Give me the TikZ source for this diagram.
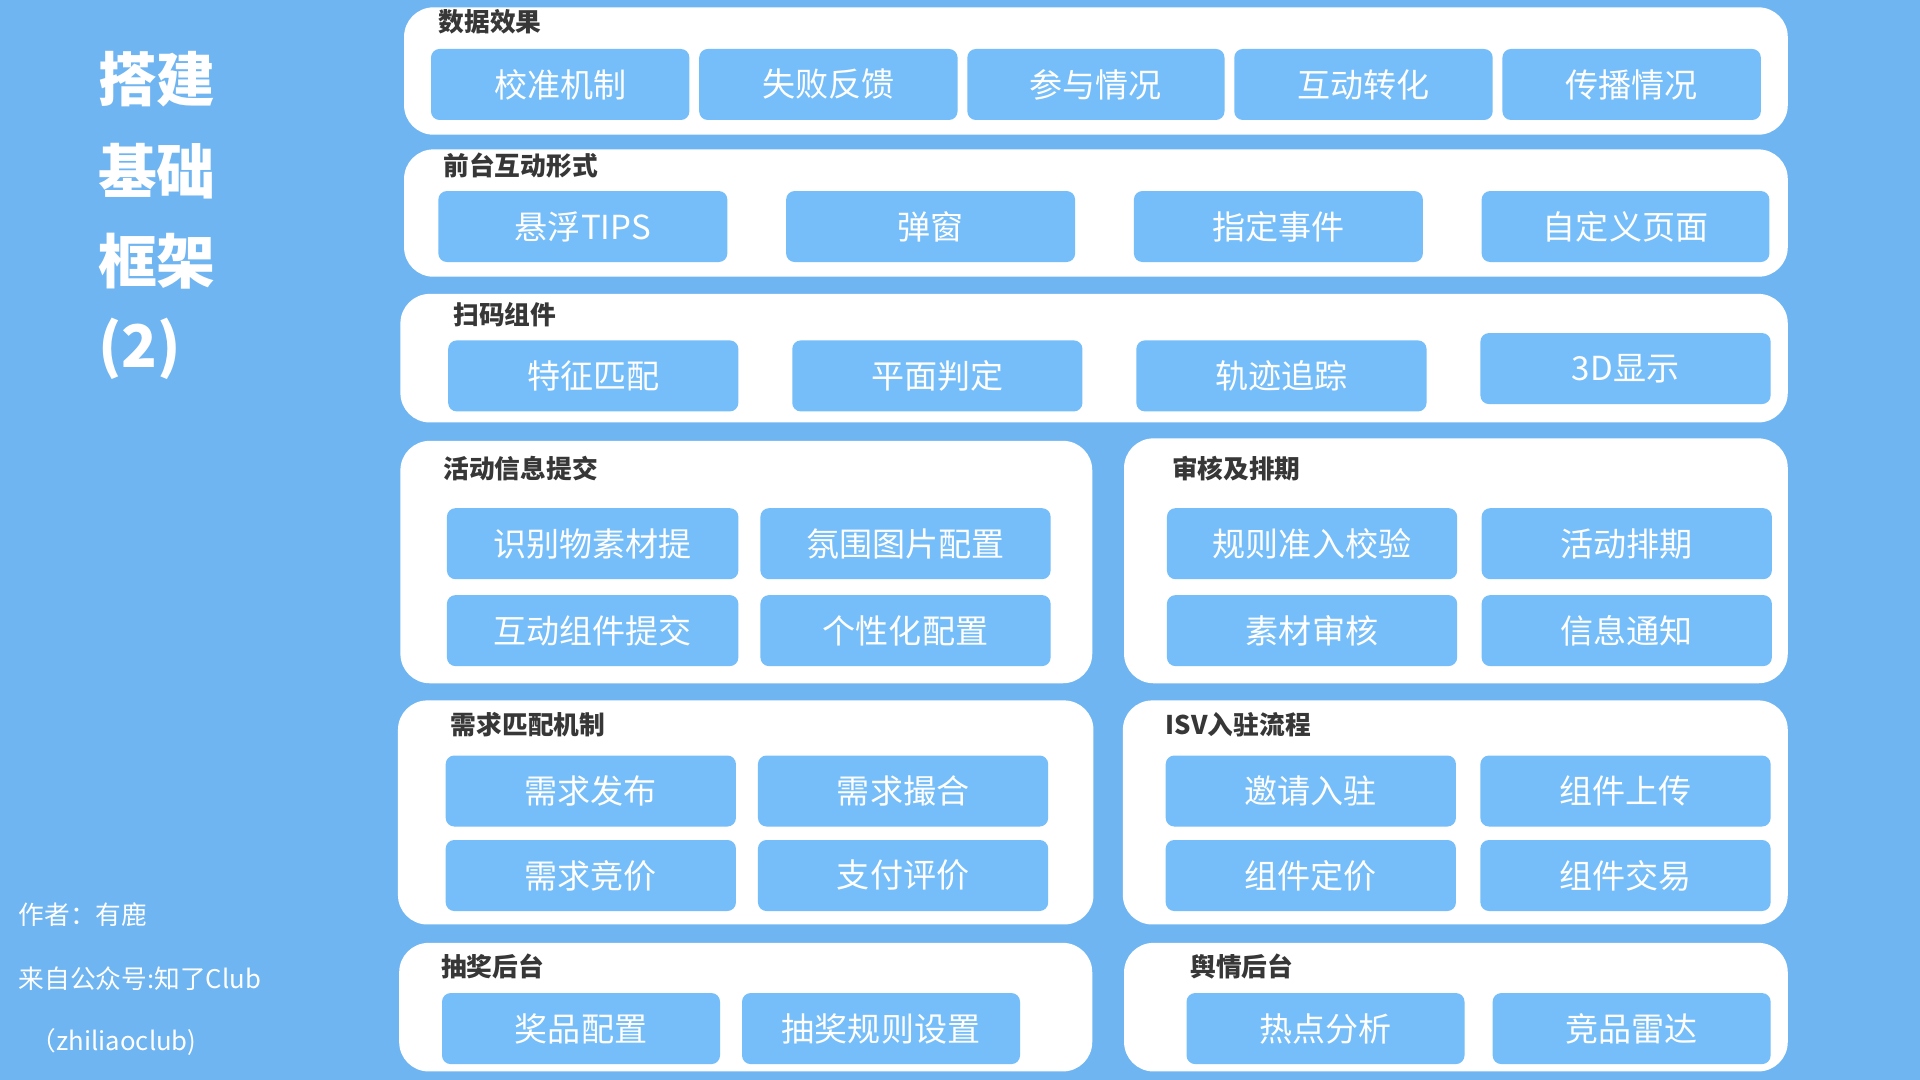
\documentclass[tikz,border=0pt]{standalone}
\usepackage{fontspec}
\setmainfont{Noto Sans CJK SC}
\usetikzlibrary{positioning}
\definecolor{bgblue}{RGB}{110,181,242}
\definecolor{btnblue}{RGB}{118,190,249}
\definecolor{labgray}{RGB}{55,55,55}
\tikzset{
  panel/.style={fill=white,draw=none,rounded corners=24pt},
  btn/.style={fill=btnblue,draw=none,rounded corners=7pt,text=white,font=\fontsize{27}{30}\selectfont,inner sep=0pt},
  plabel/.style={anchor=west,text=labgray,font=\fontsize{21}{24}\selectfont\bfseries,inner sep=0pt},
  side/.style={anchor=west,text=white,font=\fontsize{21}{24}\selectfont,inner sep=0pt},
  ttl/.style={anchor=west,text=white,font=\fontsize{48}{52}\selectfont\bfseries,inner sep=0pt}
}
% button from corner (x1,y1) to (x2,y2)
\newcommand{\btn}[6]{\node[btn,minimum width=#4-#2,minimum height=#5-#3] (#1) at ({(#2+#4)/2},{(#3+#5)/2}) {#6};}
\begin{document}
\begin{tikzpicture}[x=1pt,y=-1pt]
\fill[bgblue] (0,0) rectangle (1568,882);
% left title
\node[ttl] (t1) at (80,65) {搭建};
\node[ttl] (t2) at (80,140) {基础};
\node[ttl] (t3) at (80,213) {框架};
\node[ttl] (t4) at (80,285) {(2)};
\node[side] (s1) at (15,747) {作者：有鹿};
\node[side] (s2) at (15,799) {来自公众号:知了Club};
\node[side] (s3) at (25,851) {（zhiliaoclub)};
% panels
\fill[panel] (330,6) rectangle (1460,110);
\fill[panel] (330,122) rectangle (1460,226);
\fill[panel] (327,240) rectangle (1460,345);
\fill[panel] (327,360) rectangle (892,558);
\fill[panel] (918,358) rectangle (1460,558);
\fill[panel] (325,572) rectangle (893,755);
\fill[panel] (917,572) rectangle (1460,755);
\fill[panel] (326,770) rectangle (892,875);
\fill[panel] (918,770) rectangle (1460,875);
% panel labels
\node[plabel] (l1) at (358,18) {数据效果};
\node[plabel] (l2) at (362,135) {前台互动形式};
\node[plabel] (l3) at (370,257) {扫码组件};
\node[plabel] (l4) at (362,383) {活动信息提交};
\node[plabel] (l5) at (957,383) {审核及排期};
\node[plabel] (l6) at (368,592) {需求匹配机制};
\node[plabel] (l7) at (952,592) {ISV入驻流程};
\node[plabel] (l8) at (360,789) {抽奖后台};
\node[plabel] (l9) at (972,789) {舆情后台};
% buttons
\btn{a1}{352}{40}{563}{98}{校准机制}
\btn{a2}{571}{40}{782}{98}{失败反馈}
\btn{a3}{790}{40}{1000}{98}{参与情况}
\btn{a4}{1008}{40}{1219}{98}{互动转化}
\btn{a5}{1227}{40}{1438}{98}{传播情况}
\btn{b1}{358}{156}{594}{214}{悬浮TIPS}
\btn{b2}{642}{156}{878}{214}{弹窗}
\btn{b3}{926}{156}{1162}{214}{指定事件}
\btn{b4}{1210}{156}{1445}{214}{自定义页面}
\btn{c1}{366}{278}{603}{336}{特征匹配}
\btn{c2}{647}{278}{884}{336}{平面判定}
\btn{c3}{928}{278}{1165}{336}{轨迹追踪}
\btn{c4}{1209}{272}{1446}{330}{3D显示}
\btn{d1}{365}{415}{603}{473}{识别物素材提}
\btn{d2}{621}{415}{858}{473}{氛围图片配置}
\btn{d3}{365}{486}{603}{544}{互动组件提交}
\btn{d4}{621}{486}{858}{544}{个性化配置}
\btn{e1}{953}{415}{1190}{473}{规则准入校验}
\btn{e2}{1210}{415}{1447}{473}{活动排期}
\btn{e3}{953}{486}{1190}{544}{素材审核}
\btn{e4}{1210}{486}{1447}{544}{信息通知}
\btn{f1}{364}{617}{601}{675}{需求发布}
\btn{f2}{619}{617}{856}{675}{需求撮合}
\btn{f3}{364}{686}{601}{744}{需求竞价}
\btn{f4}{619}{686}{856}{744}{支付评价}
\btn{g1}{952}{617}{1189}{675}{邀请入驻}
\btn{g2}{1209}{617}{1446}{675}{组件上传}
\btn{g3}{952}{686}{1189}{744}{组件定价}
\btn{g4}{1209}{686}{1446}{744}{组件交易}
\btn{h1}{361}{811}{588}{869}{奖品配置}
\btn{h2}{606}{811}{833}{869}{抽奖规则设置}
\btn{i1}{969}{811}{1196}{869}{热点分析}
\btn{i2}{1219}{811}{1446}{869}{竞品雷达}
\end{tikzpicture}
\end{document}
